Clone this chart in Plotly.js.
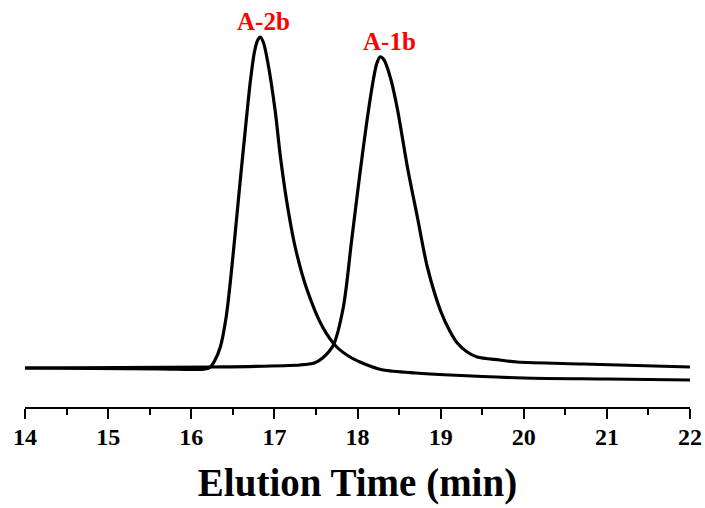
<!DOCTYPE html>
<html>
<head>
<meta charset="utf-8">
<script src="https://cdn.plot.ly/plotly-3.0.1.min.js"></script>
<style>html,body{margin:0;padding:0;background:#fff;}#chart{width:705px;height:508px;}</style>
</head>
<body>
<div id="chart"></div>
<script>
// Elution time (min) and detector signal (arbitrary units)
const timeA2b = [14.00, 15.62, 16.17, 16.23, 16.28, 16.35, 16.42, 16.47, 16.53, 16.59, 16.65, 16.71, 16.76, 16.80, 16.83, 16.87, 16.92, 17.01, 17.07, 17.15, 17.25, 17.39, 17.58, 17.75, 17.91, 18.03, 18.15, 18.31, 18.70, 19.11, 20.00, 21.00, 22.00];
const signalA2b = [39, 38, 38, 40, 46, 60, 90, 125, 175, 227, 277, 325, 355, 367, 370, 364, 345, 296, 252, 205, 160, 118, 80, 60, 50, 45, 41, 37, 34, 32, 29, 28, 27];

const timeA1b = [14.00, 16.26, 17.31, 17.48, 17.58, 17.71, 17.83, 17.93, 18.03, 18.11, 18.19, 18.23, 18.27, 18.32, 18.40, 18.48, 18.60, 18.72, 18.84, 19.00, 19.11, 19.20, 19.32, 19.44, 19.71, 19.92, 20.71, 22.00];
const signalA1b = [39, 40, 42, 44, 49, 62, 100, 167, 234, 284, 327, 343, 350, 347, 328, 298, 240, 190, 140, 96, 76, 64, 55, 50, 47, 45, 43, 40];

const peakLabels = ["A-2b", "A-1b"];
const xTicks = [14, 15, 16, 17, 18, 19, 20, 21, 22];

const lineStyle = {color: "#000", width: 3.2, shape: "spline", smoothing: 0.8};
const traces = [
  {x: timeA2b, y: signalA2b, mode: "lines", line: lineStyle, name: peakLabels[0], hoverinfo: "skip"},
  {x: timeA1b, y: signalA1b, mode: "lines", line: lineStyle, name: peakLabels[1], hoverinfo: "skip"}
];

function peakOf(xs, ys) {
  let i = ys.indexOf(Math.max(...ys));
  return {x: xs[i], y: ys[i]};
}
const p2 = peakOf(timeA2b, signalA2b);
const p1 = peakOf(timeA1b, signalA1b);

const serif = "'Liberation Serif', 'Times New Roman', serif";
const layout = {
  width: 705, height: 508,
  margin: {l: 25, r: 15, t: 7, b: 101},
  paper_bgcolor: "#fff", plot_bgcolor: "#fff",
  showlegend: false,
  xaxis: {
    range: [14, 22],
    tickvals: xTicks,
    ticktext: xTicks.map(String),
    ticks: "outside", ticklen: 10, tickwidth: 2, tickcolor: "#000",
    ticklabelstandoff: -3,
    minor: {dtick: 0.5, ticks: "outside", ticklen: 6, tickwidth: 2, tickcolor: "#000", showgrid: false},
    showline: true, linecolor: "#000", linewidth: 2,
    showgrid: false, zeroline: false,
    tickfont: {family: serif, size: 24, color: "#000", weight: "bold"},
    title: {text: "<b>Elution Time (min)</b>", font: {family: serif, size: 39, color: "#000"}, standoff: 20},
    automargin: false
  },
  yaxis: {
    range: [0, 400], visible: false, showgrid: false, zeroline: false, fixedrange: true
  },
  annotations: [
    {x: p2.x, y: p2.y, text: "<b>" + peakLabels[0] + "</b>", showarrow: false, yanchor: "bottom", yshift: 0, xshift: 3,
     font: {family: serif, size: 25, color: "#ff0000"}},
    {x: p1.x, y: p1.y, text: "<b>" + peakLabels[1] + "</b>", showarrow: false, yanchor: "bottom", yshift: 0, xshift: 10,
     font: {family: serif, size: 25, color: "#ff0000"}}
  ]
};

Plotly.newPlot("chart", traces, layout, {displayModeBar: false, staticPlot: true});
</script>
</body>
</html>
